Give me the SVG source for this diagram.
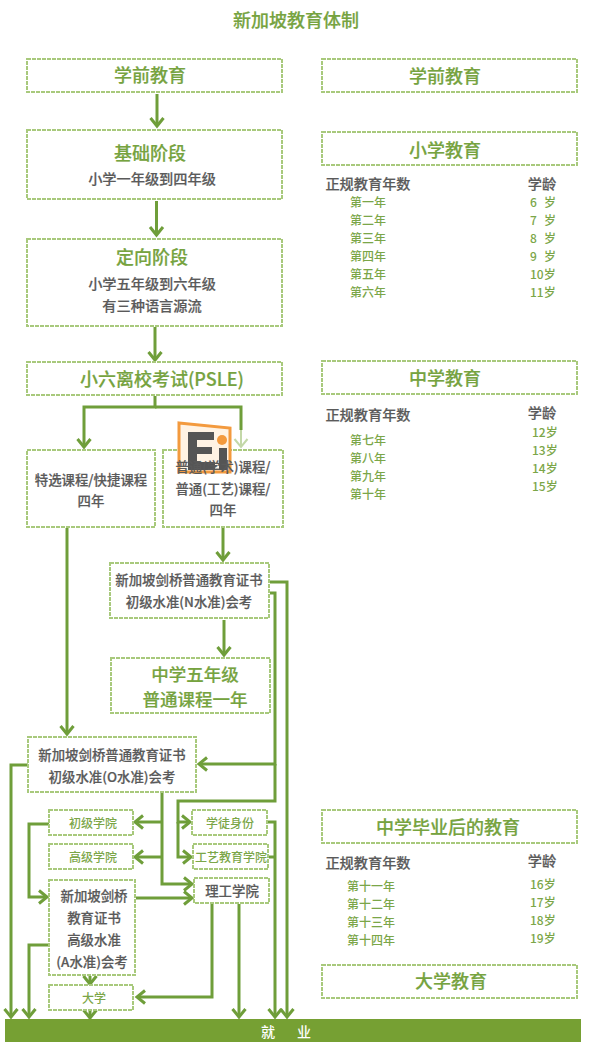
<svg xmlns="http://www.w3.org/2000/svg" width="606" height="1047" viewBox="0 0 606 1047">
<style>
text{font-family:"Noto Sans CJK SC","Liberation Sans",sans-serif;dominant-baseline:central;text-anchor:middle;font-weight:500}
.b{fill:#fff;stroke:#a8c97c;stroke-width:2;stroke-dasharray:4 1}
.h{font-size:18px;fill:#76a33f;stroke:#76a33f;stroke-width:.2}
.s{font-size:14.200px;fill:#5a5a5a;stroke:#5a5a5a;stroke-width:.2}
.m{font-size:13.400px;fill:#5a5a5a;stroke:#5a5a5a;stroke-width:.2}
.g{font-size:12px;fill:#7ba648}
.l{text-anchor:start}
.c{fill:none;stroke:#6f9e3a;stroke-width:3}
</style>
<defs>
<marker id="a" markerUnits="userSpaceOnUse" markerWidth="16" markerHeight="18" refX="10" refY="8" orient="auto"><path d="M2 1.500 L10 8 L2 14.500" fill="none" stroke="#6f9e3a" stroke-width="3"/></marker>
<marker id="f" markerUnits="userSpaceOnUse" markerWidth="16" markerHeight="18" refX="10" refY="8" orient="auto"><path d="M2 1.500 L10 8 L2 14.500" fill="none" stroke="#c3d8a8" stroke-width="2"/></marker>
</defs>
<rect width="606" height="1047" fill="#fff"/>
<text x="296" y="19" font-size="18" fill="#76a33f" stroke="#76a33f" stroke-width=".2">新加坡教育体制</text>
<g id="connectors" class="c">
<g marker-end="url(#a)">
<path d="M157 94V126"/><path d="M156.500 201V235"/><path d="M155 327V360"/>
<path d="M155 396V407H84V447"/>
<path d="M223 528V560"/><path d="M67 528V734"/><path d="M224 620V655"/>
<path d="M270 582H287V1017"/><path d="M270 593H275V764H199"/>
<path d="M275 764V801H178V822H190"/><path d="M178 822V857H191"/>
<path d="M28 765H11V1017"/>
<path d="M162 793V884H192"/><path d="M162 822H135"/><path d="M162 857H135"/>
<path d="M49 824H29V897H47"/><path d="M136 898H192"/><path d="M49 945H29V1017"/>
<path d="M90 976V984"/><path d="M90 1011V1018"/>
<path d="M268 822H275V1017"/><path d="M212 904V997H137"/><path d="M239 904V1017"/>
</g>
<path d="M155 407H241V430"/>
<path d="M269 857H275"/>
<path d="M241 430V447" style="stroke:#c3d8a8;stroke-width:2" marker-end="url(#f)"/>
</g>
<g id="n1"><rect class="b" x="27" y="59" width="255" height="33"/><text class="h" x="150" y="74">学前教育</text></g>
<g id="n2"><rect class="b" x="27" y="130" width="255" height="69"/><text class="h" x="150" y="152">基础阶段</text><text class="s" x="152" y="178">小学一年级到四年级</text></g>
<g id="n3"><rect class="b" x="27" y="239" width="255" height="87"/><text class="h" x="152" y="256">定向阶段</text><text class="s" x="152" y="283">小学五年级到六年级</text><text class="s" x="152" y="305">有三种语言源流</text></g>
<g id="n4"><rect class="b" x="27" y="362" width="255" height="33"/><text class="h" x="162" y="378">小六离校考试(PSLE)</text></g>
<g id="n5"><rect class="b" x="27" y="450" width="128" height="77"/><text class="m" x="91" y="479">特选课程/快捷课程</text><text class="m" x="91" y="500">四年</text></g>
<g id="n6"><rect class="b" x="163" y="450" width="120" height="77"/></g>
<g id="n7"><rect class="b" x="110" y="563" width="159" height="55"/><text class="m" x="189" y="579">新加坡剑桥普通教育证书</text><text class="m" x="189" y="601">初级水准(N水准)会考</text></g>
<g id="n8"><rect class="b" x="111" y="658" width="159" height="55"/><text class="h" style="font-size:17.500px" x="195" y="673">中学五年级</text><text class="h" style="font-size:17.500px" x="195" y="698.500">普通课程一年</text></g>
<g id="n9"><rect class="b" x="28" y="737" width="168" height="55"/><text class="m" x="112" y="754">新加坡剑桥普通教育证书</text><text class="m" x="112" y="776">初级水准(O水准)会考</text></g>
<g id="n10"><rect class="b" x="49" y="810" width="84" height="25"/><text class="g" x="93" y="822">初级学院</text></g>
<g id="n11"><rect class="b" x="49" y="844" width="84" height="25"/><text class="g" x="93" y="856">高级学院</text></g>
<g id="n12"><rect class="b" x="49" y="880" width="86" height="95"/><text class="m" x="94" y="895">新加坡剑桥</text><text class="m" x="94" y="917">教育证书</text><text class="m" x="94" y="939">高级水准</text><text class="m" x="92" y="961">(A水准)会考</text></g>
<g id="n13"><rect class="b" x="49" y="985" width="84" height="25"/><text class="g" x="94" y="997">大学</text></g>
<g id="n14"><rect class="b" x="192" y="810" width="75" height="25"/><text class="g" x="230" y="822">学徒身份</text></g>
<g id="n15"><rect class="b" x="193" y="844" width="75" height="25"/><text class="g" x="231" y="856">工艺教育学院</text></g>
<g id="n16"><rect class="b" x="194" y="878" width="75" height="25"/><text class="m" x="232" y="890">理工学院</text></g>
<g id="n17"><rect x="5" y="1019" width="576" height="23" fill="#76a033"/><text x="268 304" y="1031" font-size="14" font-weight="700" fill="#fff">就业</text></g>
<g id="logo">
<path d="M179 423L230 428V472H179Z" fill="#fff3e4" stroke="#f39a3e" stroke-width="3"/>
<path d="M188 432H214V440H197V447H212V454H197V462H215V470H188Z" fill="#555"/>
<rect x="219" y="448" width="8" height="22" fill="#555"/>
<circle cx="222" cy="440" r="5" fill="#f39a3e"/>
</g>
<g id="n6t"><text class="m" x="223" y="466">普通(学术)课程/</text><text class="m" x="223" y="488">普通(工艺)课程/</text><text class="m" x="223" y="509">四年</text></g>
<g id="r1"><rect class="b" x="322" y="59" width="255" height="33"/><text class="h" x="445" y="75">学前教育</text></g>
<g id="r2"><rect class="b" x="322" y="132" width="255" height="33"/><text class="h" x="445" y="149">小学教育</text></g>
<g id="r3"><rect class="b" x="322" y="361" width="255" height="33"/><text class="h" x="445" y="377">中学教育</text></g>
<g id="r4"><rect class="b" x="322" y="810" width="255" height="33"/><text class="h" x="448" y="826">中学毕业后的教育</text></g>
<g id="r5"><rect class="b" x="322" y="965" width="255" height="33"/><text class="h" x="451" y="980">大学教育</text></g>
<g id="t1">
<text class="s" x="368" y="183">正规教育年数</text><text class="s" x="542" y="183">学龄</text>
<text class="g" x="368" y="201">第一年</text><text class="g" x="368" y="219">第二年</text><text class="g" x="368" y="237">第三年</text><text class="g" x="368" y="255">第四年</text><text class="g" x="368" y="273">第五年</text><text class="g" x="368" y="291">第六年</text>
<text class="g l" x="530 537 544" y="201">6 岁</text><text class="g l" x="530 537 544" y="219">7 岁</text><text class="g l" x="530 537 544" y="237">8 岁</text><text class="g l" x="530 537 544" y="255">9 岁</text>
<text class="g l" x="530" y="273">10岁</text><text class="g l" x="530" y="291">11岁</text>
</g>
<g id="t2">
<text class="s" x="368" y="414">正规教育年数</text><text class="s" x="542" y="412">学龄</text>
<text class="g" x="368" y="439">第七年</text><text class="g" x="368" y="457">第八年</text><text class="g" x="368" y="475">第九年</text><text class="g" x="368" y="493">第十年</text>
<text class="g l" x="532" y="431">12岁</text><text class="g l" x="532" y="449">13岁</text><text class="g l" x="532" y="467">14岁</text><text class="g l" x="532" y="485">15岁</text>
</g>
<g id="t3">
<text class="s" x="368" y="862">正规教育年数</text><text class="s" x="542" y="860">学龄</text>
<text class="g" x="371" y="885">第十一年</text><text class="g" x="371" y="903">第十二年</text><text class="g" x="371" y="921">第十三年</text><text class="g" x="371" y="939">第十四年</text>
<text class="g l" x="530" y="883">16岁</text><text class="g l" x="530" y="901">17岁</text><text class="g l" x="530" y="919">18岁</text><text class="g l" x="530" y="937">19岁</text>
</g>
</svg>
